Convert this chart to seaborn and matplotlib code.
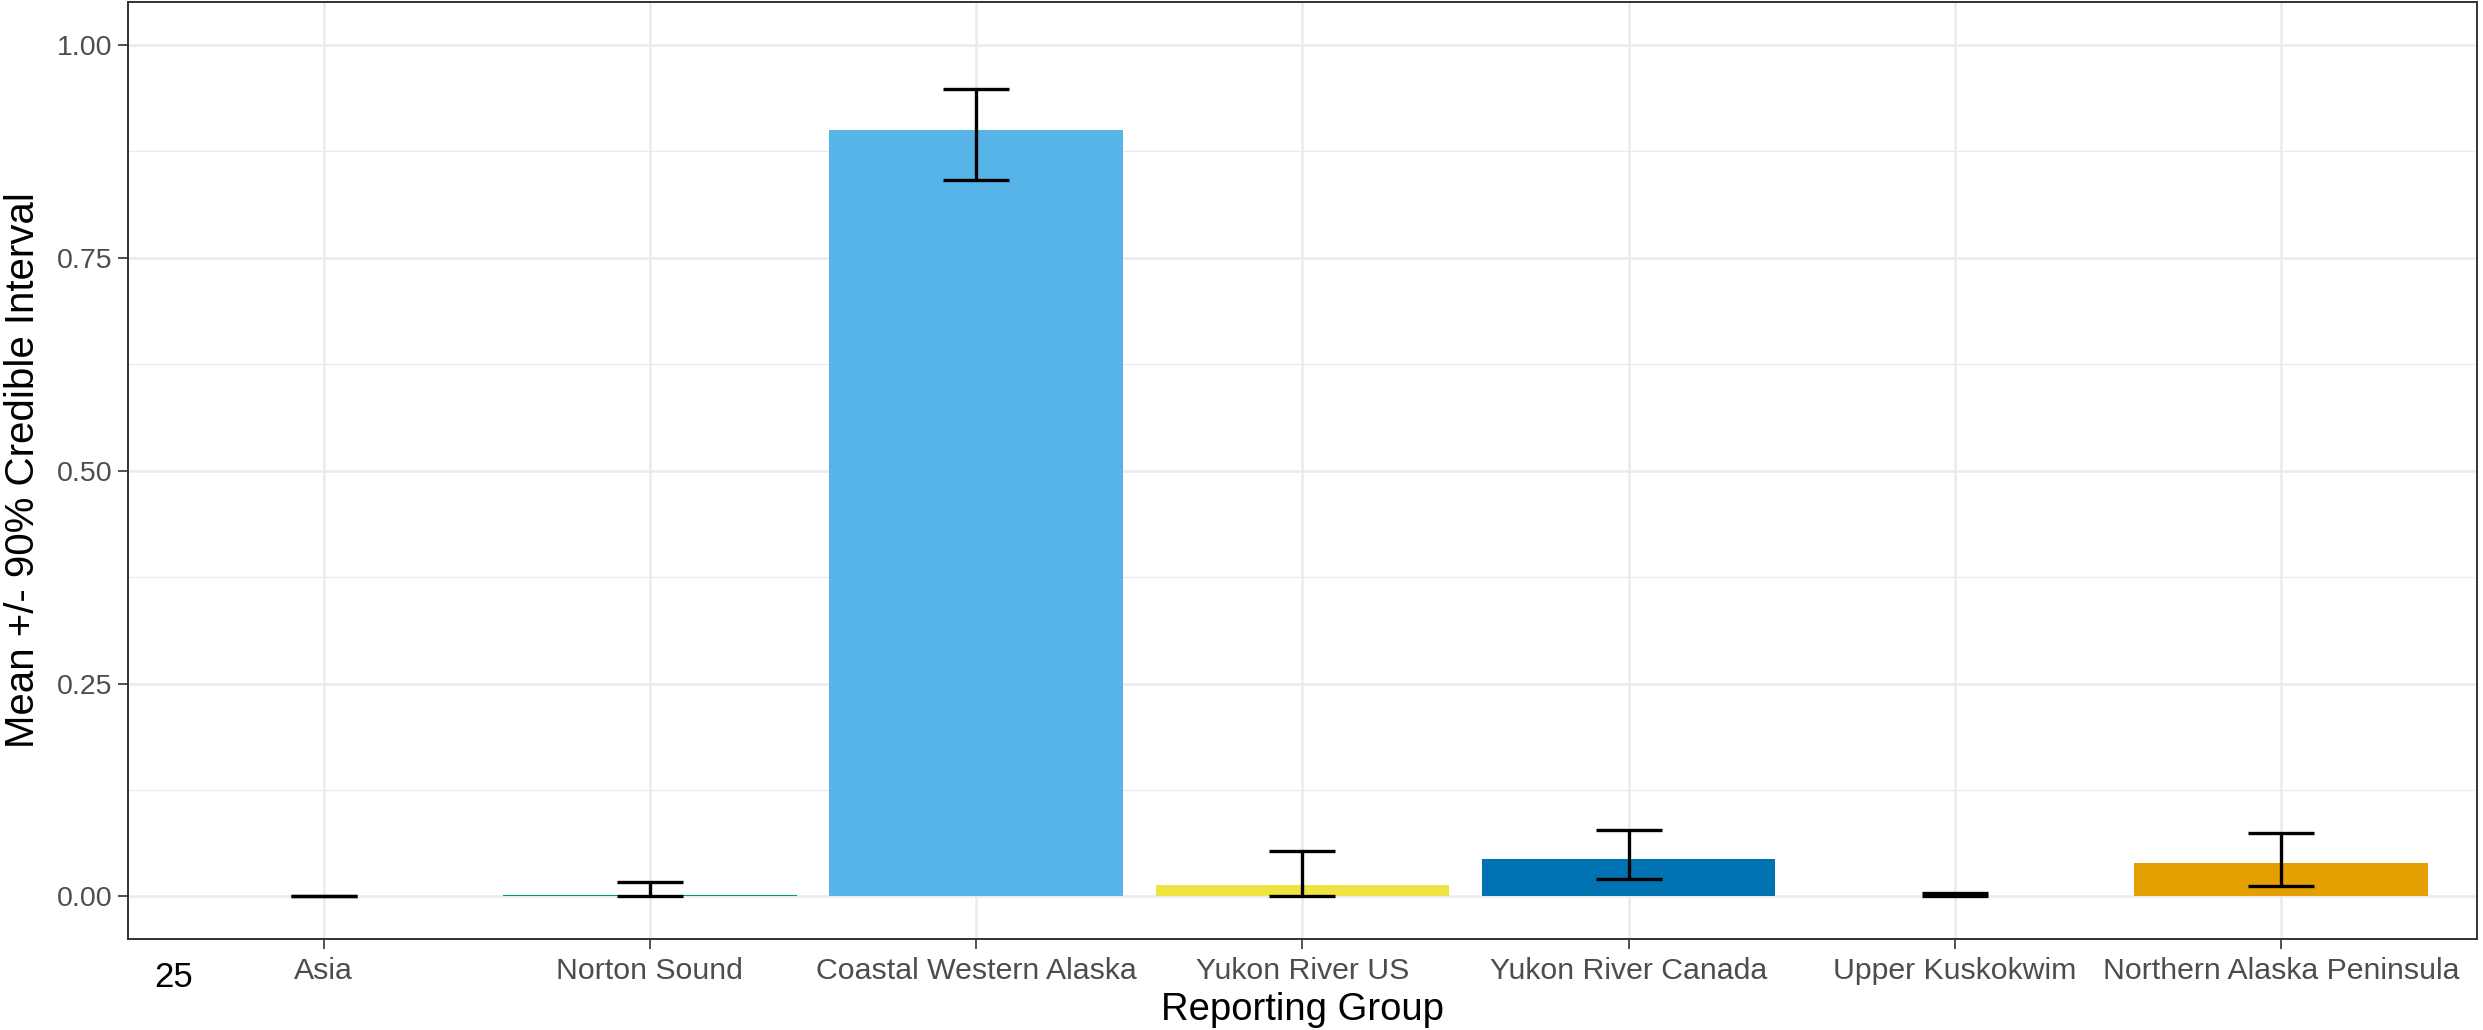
import matplotlib.pyplot as plt
import numpy as np
import pandas as pd
import seaborn as sns
from matplotlib.ticker import MultipleLocator, FormatStrFormatter

# Mean and 90% credible interval per reporting group
groups = ['Asia', 'Norton Sound', 'Coastal Western Alaska', 'Yukon River US',
          'Yukon River Canada', 'Upper Kuskokwim', 'Northern Alaska Peninsula']
means = [0.0003, 0.002, 0.900, 0.014, 0.0445, 0.0003, 0.0393]
lower = [0.0, 0.0, 0.841, 0.0, 0.0207, 0.0002, 0.012]
upper = [0.001, 0.0164, 0.948, 0.053, 0.078, 0.0043, 0.075]
colors = ['#999999', '#009E73', '#56B4E9', '#F0E442', '#0072B2', '#D55E00', '#E69F00']
y_ticks = [0.0, 0.25, 0.5, 0.75, 1.0]

df = pd.DataFrame({'group': groups, 'mean': means, 'lo': lower, 'hi': upper})

sns.set_style('white')
plt.rcParams['font.family'] = ['Liberation Sans', 'DejaVu Sans']

fig = plt.figure(figsize=(24.83, 10.30), dpi=100)
ax = fig.add_axes([0.0515, 0.0883, 0.946, 0.9097])

sns.barplot(data=df, x='group', y='mean', hue='group', order=groups,
            palette=dict(zip(groups, colors)), saturation=1, width=0.9,
            linewidth=0, legend=False, ax=ax)

# credible interval error bars
pos = np.arange(len(groups))
ax.errorbar(pos, df['mean'], yerr=[df['mean'] - df['lo'], df['hi'] - df['mean']],
            fmt='none', ecolor='black', elinewidth=2.4, capsize=23.8,
            capthick=2.4, zorder=3)

ax.set_xlim(-0.6, 6.6)
ax.set_ylim(-0.05, 1.05)
ax.set_yticks(y_ticks)
ax.yaxis.set_major_formatter(FormatStrFormatter('%.2f'))
ax.yaxis.set_minor_locator(MultipleLocator(0.125))

ax.set_axisbelow(True)
ax.grid(which='major', color='#EBEBEB', lw=1.8)
ax.grid(which='minor', axis='y', color='#EBEBEB', lw=1.0)

for s in ax.spines.values():
    s.set_color('#333333')
    s.set_linewidth(1.4)

ax.tick_params(axis='both', which='major', length=7, width=1.2, color='#333333',
               labelcolor='#4D4D4D', bottom=True, left=True)
ax.tick_params(axis='x', labelsize=21.8, pad=6)
ax.tick_params(axis='y', labelsize=20.5, pad=4)
ax.tick_params(which='minor', length=0)

ax.set_xlabel('Reporting Group', fontsize=27.5, color='black')
ax.set_ylabel('Mean +/- 90% Credible Interval', fontsize=29, color='black')
ax.xaxis.set_label_coords(0.5, -0.0757)
ax.xaxis.label.set_va('center')
ax.yaxis.set_label_coords(-0.0445, 0.5)
ax.yaxis.label.set_va('center')

fig.text(0.070, 0.051, '25', fontsize=25, color='black', ha='center', va='center')

fig.savefig('out.png', dpi=100)
